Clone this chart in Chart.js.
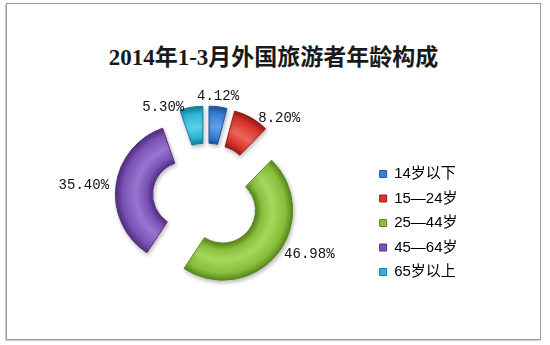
<!DOCTYPE html>
<html>
<head>
<meta charset="utf-8">
<title>2014年1-3月外国旅游者年龄构成</title>
<script src="https://cdn.jsdelivr.net/npm/chart.js@4.4.1/dist/chart.umd.min.js"></script>
<style>
  html, body { margin: 0; padding: 0; background: #fff; }
  body { width: 550px; height: 345px; position: relative; overflow: hidden; }
  .frame {
    position: absolute; left: 6px; top: 3px; width: 535px; height: 337px;
    box-sizing: border-box; border: 1px solid #9a9a9a;
    box-shadow: -1px 1px 0 #cfcfcf;
  }
  .chart-title {
    position: absolute; left: 6px; top: 38px; width: 535px;
    text-align: center; line-height: 28px;
    font: bold 23px "Liberation Serif", "Noto Sans CJK SC", serif;
    color: #1a1a1a;
  }
  .chart-wrap { position: absolute; left: 0; top: 0; width: 550px; height: 345px; }
</style>
</head>
<body>
<div class="frame"></div>
<div class="chart-title">2014年1-3月外国旅游者年龄构成</div>
<div class="chart-wrap"><canvas id="ageChart"></canvas></div>

<script>
// age groups and their share of foreign visitors (%)
const ageGroups = ['14岁以下', '15—24岁', '25—44岁', '45—64岁', '65岁以上'];
const shares = [4.12, 8.20, 46.98, 35.40, 5.30];

const baseColors = ['#3a7fd5', '#d8352b', '#88bf3b', '#7b52b7', '#2cb6d6'];
const lightColors = ['#63a0ea', '#ee6457', '#a6d75e', '#9875cf', '#5fd0ea'];
const darkColors = ['#1f559f', '#9c1d18', '#5a8a1f', '#523083', '#16809e'];

const EXPLODE = 21;

// soft bevel: dark at both ring edges, lighter in the middle
function ringGradient(context) {
  const chart = context.chart;
  const i = context.dataIndex;
  const meta = chart.getDatasetMeta(0);
  const ctrl = meta.controller;
  if (!chart.chartArea || !ctrl.outerRadius) return baseColors[i];
  const cx = (chart.chartArea.left + chart.chartArea.right) / 2;
  const cy = (chart.chartArea.top + chart.chartArea.bottom) / 2;
  const r0 = ctrl.innerRadius, r1 = ctrl.outerRadius;
  const g = chart.ctx.createRadialGradient(cx, cy, r0, cx, cy, r1);
  g.addColorStop(0, darkColors[i]);
  g.addColorStop(0.18, baseColors[i]);
  g.addColorStop(0.45, lightColors[i]);
  g.addColorStop(0.8, baseColors[i]);
  g.addColorStop(1, darkColors[i]);
  return g;
}

// pull every slice away from the centre and give it a drop shadow
const explodePlugin = {
  id: 'explode',
  beforeDatasetDraw(chart, args) {
    const ctx = chart.ctx;
    args.meta.data.forEach(arc => {
      const mid = (arc.startAngle + arc.endAngle) / 2;
      ctx.save();
      ctx.translate(Math.cos(mid) * EXPLODE, Math.sin(mid) * EXPLODE);
      ctx.shadowColor = 'rgba(0, 0, 0, 0.28)';
      ctx.shadowBlur = 4;
      ctx.shadowOffsetX = 1;
      ctx.shadowOffsetY = 2;
      arc.draw(ctx);
      ctx.restore();
    });
    return false;
  }
};

// percentage labels just outside each slice
const sliceLabelPlugin = {
  id: 'sliceLabels',
  afterDatasetsDraw(chart) {
    const ctx = chart.ctx;
    const meta = chart.getDatasetMeta(0);
    const gap = 7;
    ctx.save();
    ctx.font = '14px "Liberation Mono", "DejaVu Sans Mono", monospace';
    ctx.fillStyle = '#111';
    meta.data.forEach((arc, i) => {
      const mid = (arc.startAngle + arc.endAngle) / 2;
      const ux = Math.cos(mid), uy = Math.sin(mid);
      const r = arc.outerRadius + EXPLODE;
      const px = arc.x + ux * r;
      const py = arc.y + uy * r;
      const text = shares[i].toFixed(2) + '%';
      if (Math.abs(ux) < 0.15) {
        ctx.textAlign = 'center';
        ctx.textBaseline = uy < 0 ? 'alphabetic' : 'top';
        ctx.fillText(text, px, py + Math.sign(uy) * gap);
      } else {
        ctx.textAlign = ux > 0 ? 'left' : 'right';
        ctx.textBaseline = 'middle';
        ctx.fillText(text, px + Math.sign(ux) * gap, py);
      }
    });
    ctx.restore();
  }
};

function renderAgeChart() {
  const ctx = document.getElementById('ageChart');

  new Chart(ctx, {
    type: 'doughnut',
    data: {
      labels: ageGroups,
      datasets: [{
        data: shares,
        backgroundColor: ringGradient,
        borderColor: darkColors,
        borderWidth: 1
      }]
    },
    options: {
      responsive: true,
      maintainAspectRatio: false,
      animation: false,
      radius: 70,
      cutout: '47%',
      layout: {
        padding: { top: 105, bottom: 56, left: 42.5, right: 82.5 }
      },
      plugins: {
        title: { display: false },
        tooltip: { enabled: false },
        legend: {
          position: 'right',
          align: 'end',
          fullSize: false,
          labels: {
            boxWidth: 7,
            boxHeight: 7,
            padding: 9.5,
            color: '#1a1a1a',
            font: { size: 15, family: '"Liberation Sans", "Noto Sans CJK SC", sans-serif' },
            generateLabels(chart) {
              return ageGroups.map((name, i) => ({
                text: name,
                fillStyle: baseColors[i],
                strokeStyle: darkColors[i],
                lineWidth: 1,
                hidden: false,
                index: i
              }));
            }
          }
        }
      }
    },
    plugins: [explodePlugin, sliceLabelPlugin]
  });
}

renderAgeChart();
</script>
</body>
</html>
